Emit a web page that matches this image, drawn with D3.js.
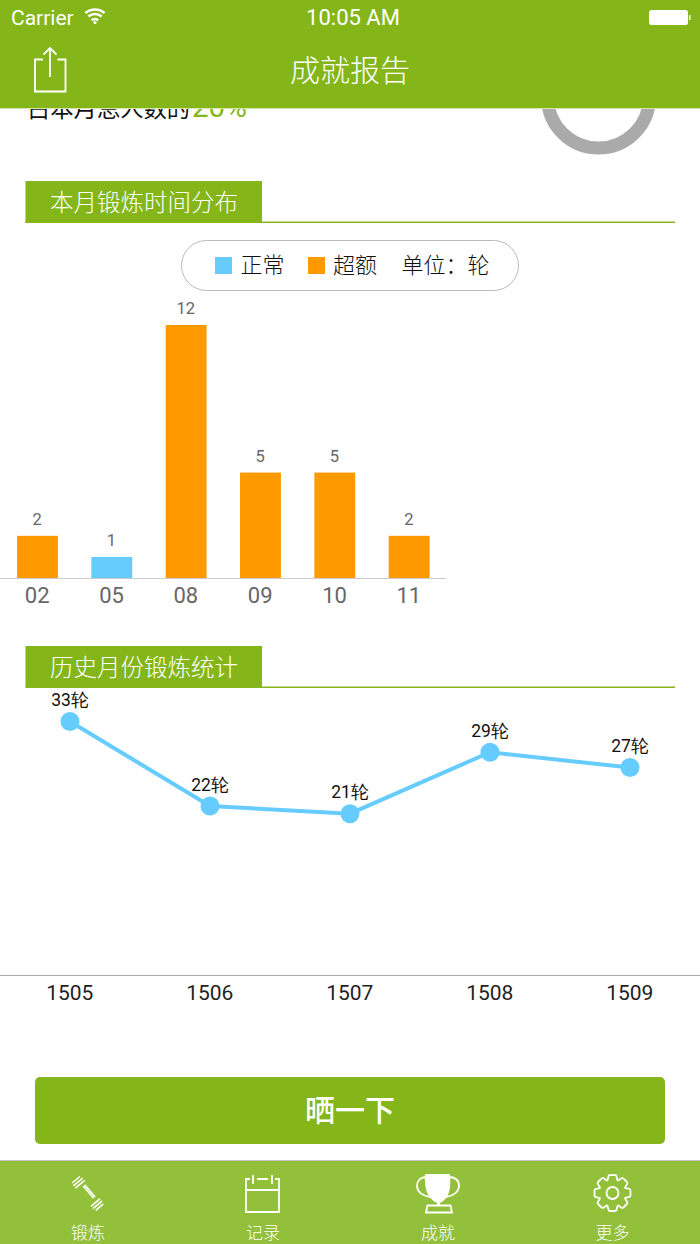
<!doctype html>
<html lang="zh">
<head>
<meta charset="utf-8">
<title>成就报告</title>
<script src="https://d3js.org/d3.v7.min.js"></script>
<style>
  html, body { margin: 0; padding: 0; background: #fff; }
  svg { display: block; }
  text { font-family: "Noto Sans CJK SC", "Noto Sans", sans-serif; }
  .num { font-family: Roboto, "Liberation Sans", sans-serif; }
</style>
</head>
<body>
<svg id="chart" width="700" height="1244"></svg>
<script>
var months = ["02", "05", "08", "09", "10", "11"];
var monthValues = [2, 1, 12, 5, 5, 2];
var monthKinds = ["over", "normal", "over", "over", "over", "over"];

var historyMonths = ["1505", "1506", "1507", "1508", "1509"];
var historyValues = [33, 22, 21, 29, 27];

var tabLabels = ["锻炼", "记录", "成就", "更多"];

var green = "#84b61a", tabGreen = "#92c03a", blue = "#66ccff", orange = "#ff9900";
var kindColor = { normal: blue, over: orange };

var svg = d3.select("#chart");

// ---- clipped content behind the nav bar
svg.append("text").attr("x", 27).attr("y", 117)
    .attr("font-size", 23.3).attr("fill", "#111").text("占本月总人数的");
svg.append("text").attr("class", "num").attr("x", 192).attr("y", 117)
    .attr("font-size", 29.5).attr("fill", green).text("20%");
svg.append("circle").attr("cx", 598.5).attr("cy", 97).attr("r", 51)
    .attr("fill", "none").attr("stroke", "#aaa").attr("stroke-width", 13);

// ---- section headers
function sectionHeader(top, label) {
    svg.append("rect").attr("x", 25.5).attr("y", top).attr("width", 236.5).attr("height", 42).attr("fill", green);
    svg.append("rect").attr("x", 25.5).attr("y", top + 40.5).attr("width", 649.5).attr("height", 1.5).attr("fill", green);
    svg.append("text").attr("x", 50).attr("y", top + 30).attr("font-size", 23.5)
        .attr("font-weight", 300).attr("fill", "#fff").text(label);
}
sectionHeader(181, "本月锻炼时间分布");
sectionHeader(646, "历史月份锻炼统计");

// ---- legend
var legend = svg.append("g");
legend.append("rect").attr("x", 181.5).attr("y", 240.5).attr("width", 337).attr("height", 50).attr("rx", 25)
    .attr("fill", "#fff").attr("stroke", "#bbb");
legend.append("rect").attr("x", 215).attr("y", 257).attr("width", 17).attr("height", 17).attr("fill", blue);
legend.append("rect").attr("x", 308).attr("y", 257).attr("width", 17).attr("height", 17).attr("fill", orange);
[["正常", 240.5], ["超额", 333], ["单位：轮", 401.5]].forEach(function (d) {
    legend.append("text").attr("x", d[1]).attr("y", 273).attr("font-size", 22)
        .attr("font-weight", 300).attr("fill", "#111").text(d[0]);
});

// ---- bar chart
var barX = d3.scaleBand().domain(months).range([0, 446]).paddingInner(0.45).paddingOuter(0.225);
var barY = d3.scaleLinear().domain([0, 12]).range([578, 325]);
var barData = months.map(function (m, i) { return { month: m, value: monthValues[i], kind: monthKinds[i] }; });

svg.append("g").selectAll("rect").data(barData).enter().append("rect")
    .attr("x", function (d) { return barX(d.month) + 0.3; })
    .attr("y", function (d) { return barY(d.value); })
    .attr("width", barX.bandwidth())
    .attr("height", function (d) { return barY(0) - barY(d.value); })
    .attr("fill", function (d) { return kindColor[d.kind]; });

svg.append("g").selectAll("text").data(barData).enter().append("text")
    .attr("class", "num")
    .attr("x", function (d) { return barX(d.month) + barX.bandwidth() / 2; })
    .attr("y", function (d) { return barY(d.value) - 11; })
    .attr("text-anchor", "middle").attr("font-size", 16.5).attr("fill", "#666")
    .text(function (d) { return d.value; });

var barAxis = svg.append("g").attr("transform", "translate(0,578)")
    .call(d3.axisBottom(barX).tickSize(0).tickPadding(9));
barAxis.select(".domain").attr("stroke", "#ccc").attr("d", "M0,0.5H446");
barAxis.selectAll("text").attr("class", "num").attr("font-size", 22).attr("fill", "#666");

// ---- line chart
var lineX = d3.scalePoint().domain(historyMonths).range([70, 630]);
var lineY = d3.scaleLinear().domain([0, 33]).range([975, 721.5]);
var lineData = historyMonths.map(function (m, i) { return { month: m, value: historyValues[i] }; });

svg.append("path").datum(lineData)
    .attr("fill", "none").attr("stroke", blue).attr("stroke-width", 4)
    .attr("d", d3.line()
        .x(function (d) { return lineX(d.month); })
        .y(function (d) { return lineY(d.value); }));

svg.append("g").selectAll("circle").data(lineData).enter().append("circle")
    .attr("cx", function (d) { return lineX(d.month); })
    .attr("cy", function (d) { return lineY(d.value); })
    .attr("r", 9.5).attr("fill", blue);

svg.append("g").selectAll("text").data(lineData).enter().append("text")
    .attr("class", "num")
    .attr("x", function (d) { return lineX(d.month); })
    .attr("y", function (d) { return lineY(d.value) - 15.5; })
    .attr("text-anchor", "middle").attr("font-size", 17.5).attr("fill", "#111")
    .text(function (d) { return d.value + "轮"; });

var lineAxis = svg.append("g").attr("transform", "translate(-0.7,975)")
    .call(d3.axisBottom(lineX).tickSize(0).tickPadding(10));
lineAxis.select(".domain").attr("stroke", "#aaa").attr("d", "M0,0.5H701");
lineAxis.selectAll("text").attr("class", "num").attr("font-size", 21).attr("fill", "#222");

// ---- share button
svg.append("rect").attr("x", 35).attr("y", 1077).attr("width", 630).attr("height", 67).attr("rx", 5).attr("fill", green);
svg.append("text").attr("x", 350).attr("y", 1121).attr("text-anchor", "middle")
    .attr("font-size", 30).attr("font-weight", 500).attr("fill", "#fff").text("晒一下");

// ---- nav bar
svg.append("rect").attr("width", 700).attr("height", 108).attr("fill", green);
svg.append("rect").attr("y", 108).attr("width", 700).attr("height", 1).attr("fill", "#d5e6a8");
svg.append("text").attr("class", "num").attr("x", 11).attr("y", 24.5).attr("font-size", 21).attr("fill", "#fff").text("Carrier");
svg.append("text").attr("class", "num").attr("x", 353).attr("y", 25).attr("text-anchor", "middle")
    .attr("font-size", 22).attr("fill", "#fff").text("10:05 AM");
svg.append("text").attr("x", 350).attr("y", 81).attr("text-anchor", "middle")
    .attr("font-size", 30).attr("font-weight", 300).attr("fill", "#fff").text("成就报告");

// wifi
var wifi = svg.append("g").attr("transform", "translate(95,24)")
    .attr("fill", "none").attr("stroke", "#fff").attr("stroke-width", 2.6);
[5, 10, 14.5].forEach(function (r) {
    wifi.append("path").attr("d", d3.arc()({ innerRadius: r, outerRadius: r, startAngle: -0.72, endAngle: 0.72 }));
});
wifi.append("circle").attr("cy", -1.5).attr("r", 1.6).attr("fill", "#fff").attr("stroke", "none");

// battery
svg.append("rect").attr("x", 649).attr("y", 10).attr("width", 39).attr("height", 15).attr("rx", 2.5).attr("fill", "#fff");
svg.append("rect").attr("x", 689).attr("y", 15).attr("width", 1.5).attr("height", 5).attr("fill", "#fff");

// share icon
svg.append("path").attr("fill", "none").attr("stroke", "#fff").attr("stroke-width", 1.8)
    .attr("d", "M43,59.5H35V91.5H65.5V59.5H57.5M50,77V48M43.5,54.5L50,48L56.5,54.5");

// ---- tab bar
svg.append("rect").attr("y", 1160).attr("width", 700).attr("height", 84).attr("fill", tabGreen);
svg.append("rect").attr("y", 1160).attr("width", 700).attr("height", 1).attr("fill", "#c4c4c4");

var tabCenters = [88, 263, 438, 612.5];
svg.append("g").selectAll("text").data(tabLabels).enter().append("text")
    .attr("x", function (d, i) { return tabCenters[i]; })
    .attr("y", 1239).attr("text-anchor", "middle").attr("font-size", 17)
    .attr("font-weight", 300).attr("fill", "#fff")
    .text(function (d) { return d; });

var iconStroke = { fill: "none", stroke: "#fff", "stroke-width": 2 };
function icon(d, opts) {
    var p = svg.append("path").attr("d", d);
    Object.entries(Object.assign({}, iconStroke, opts || {})).forEach(function (e) { p.attr(e[0], e[1]); });
    return p;
}

// dumbbell
icon("M83.2,1186L93.7,1198.3M84.7,1184.7L95.2,1197" +
     "M73.4,1185.9L82.6,1178.1M75.4,1188.2L84.6,1180.4M72.2,1183L79.8,1176.5" +
     "M91,1206.4L100,1198.6M93,1208.7L102,1200.9M95.7,1210.4L103.3,1203.8",
    { "stroke-width": 1.6 });

// calendar
icon("M250,1179H246V1212H279V1179H275M246,1190H279M253,1175V1184M272,1175V1184M257,1179H268", { "stroke-width": 1.8 });

// trophy
icon("M427,1177C420,1177 417,1181 417,1186C417,1192 423,1196 430,1197M448,1177C456,1177 459,1181 459,1186C459,1192 453,1196 446,1197M426,1212.5L427.5,1205.5H450.5L452,1212.5Z", { "stroke-width": 1.8 });
icon("M425,1174H450C451,1188 450,1198 440,1203V1205H437V1203C427,1198 424,1188 425,1174Z", { fill: "#fff", stroke: "none" });

// gear
var gearPts = d3.range(0, 8).flatMap(function (i) {
    var a = i * Math.PI / 4;
    return [[a - 0.2, 18], [a + 0.2, 18], [a + 0.39, 13.5]];
});
svg.append("path").attr("transform", "translate(612.5,1193)")
    .attr("fill", "none").attr("stroke", "#fff").attr("stroke-width", 1.8)
    .attr("d", d3.lineRadial().curve(d3.curveCardinalClosed.tension(0.4))(gearPts));
svg.append("circle").attr("cx", 612.5).attr("cy", 1193).attr("r", 6)
    .attr("fill", "none").attr("stroke", "#fff").attr("stroke-width", 1.8);
</script>
</body>
</html>
